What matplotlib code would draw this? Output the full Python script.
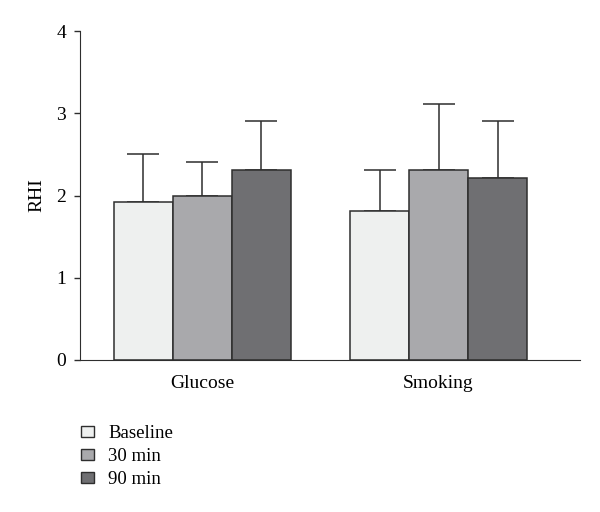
import matplotlib
matplotlib.use("Agg")
import matplotlib.pyplot as plt
import numpy as np
from matplotlib.patches import Patch

categories = ["Glucose", "Smoking"]
series = ["Baseline", "30 min", "90 min"]
means = {
    "Baseline": [1.92, 1.81],
    "30 min": [2.00, 2.31],
    "90 min": [2.31, 2.21],
}
errors = {
    "Baseline": [0.58, 0.50],
    "30 min": [0.41, 0.80],
    "90 min": [0.60, 0.70],
}
colors = ["#eef0ef", "#a9a9ac", "#6f6f72"]
edge = "#2e2e2e"

plt.rcParams['font.family'] = ['Liberation Serif', 'DejaVu Serif']
fs = 14

fig = plt.figure(figsize=(6, 5.12), dpi=100)
ax = fig.add_axes([80/600, 1-360/512, 500/600, (360-31)/512])

x = np.arange(len(categories))
w = 0.2495
for i, s in enumerate(series):
    pos = x + (i - 1) * w
    vals = np.array(means[s])
    errs = np.array(errors[s])
    ax.bar(pos, vals, width=w, color=colors[i], edgecolor=edge, linewidth=1.1, zorder=2)
    ax.errorbar(pos, vals, yerr=[np.zeros_like(errs), errs], fmt='none',
                ecolor=edge, elinewidth=1.1, capsize=11.5, capthick=1.1, zorder=1)

ax.set_xlim(-0.516, 1.598)
ax.set_ylim(0, 4)
ax.set_yticks([0, 1, 2, 3, 4])
ax.set_xticks(x)
ax.set_xticklabels(categories, fontsize=fs)
ax.tick_params(axis='x', length=0, pad=11)
ax.tick_params(axis='y', length=4, width=1, direction='out', labelsize=fs, pad=6, color=edge)
ax.spines['top'].set_visible(False)
ax.spines['right'].set_visible(False)
ax.spines['left'].set_color(edge)
ax.spines['bottom'].set_color(edge)
ax.set_ylabel("RHI", fontsize=fs, labelpad=8)

handles = [Patch(facecolor=c, edgecolor=edge, linewidth=1.0, label=s) for c, s in zip(colors, series)]
fig.legend(handles=handles, loc='upper left', bbox_to_anchor=(68/600, 1-412/512),
           frameon=False, fontsize=13.5, handlelength=0.7, handleheight=0.5,
           handletextpad=0.75, labelspacing=0.32, borderpad=0.2)

fig.savefig("out.png", dpi=100)
